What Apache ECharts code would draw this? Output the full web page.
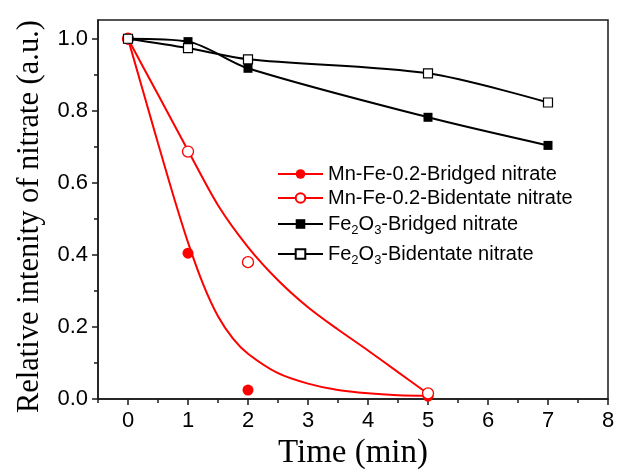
<!DOCTYPE html>
<html>
<head>
<meta charset="utf-8">
<script src="https://cdn.jsdelivr.net/npm/echarts@6/dist/echarts.min.js"></script>
<style>
  html, body { margin: 0; padding: 0; background: #ffffff; }
  #chart { width: 618px; height: 475px; }
</style>
</head>
<body>
<div id="chart"></div>
<script>
// Measured relative intensities
const mnBridgedX = [0, 1, 2, 5];
const mnBridgedY = [1.0, 0.405, 0.025, 0.008];
const mnBidentateX = [0, 1, 2, 5];
const mnBidentateY = [1.0, 0.687, 0.38, 0.016];
const feBridgedX = [0, 1, 2, 5, 7];
const feBridgedY = [1.0, 0.992, 0.918, 0.782, 0.704];
const feBidentateX = [0, 1, 2, 5, 7];
const feBidentateY = [1.0, 0.974, 0.943, 0.904, 0.823];

// Fitted decay curves for the Mn-Fe-0.2 sample
const mnBridgedFitX = [0, 0.25, 0.5, 0.75, 1, 1.25, 1.5, 1.75, 2, 2.5, 3, 3.5, 4, 4.5, 5];
const mnBridgedFitY = [1.0, 0.855, 0.71, 0.568, 0.435, 0.32, 0.23, 0.168, 0.126, 0.072, 0.043, 0.025, 0.016, 0.011, 0.009];
const mnBidentateFitX = [0, 0.5, 1, 1.5, 2, 2.5, 3, 3.5, 4, 4.5, 5];
const mnBidentateFitY = [1.0, 0.845, 0.69, 0.538, 0.422, 0.33, 0.255, 0.193, 0.135, 0.075, 0.015];

// Axis ticks
const xTicks = [0, 1, 2, 3, 4, 5, 6, 7, 8];
const xMinorTicks = [-0.5, 0.5, 1.5, 2.5, 3.5, 4.5, 5.5, 6.5, 7.5];
const yTicks = [0, 0.2, 0.4, 0.6, 0.8, 1.0];
const yMinorTicks = [0.1, 0.3, 0.5, 0.7, 0.9];

const seriesNames = [
  'Mn-Fe-0.2-Bridged nitrate',
  'Mn-Fe-0.2-Bidentate nitrate',
  'Fe2O3-Bridged nitrate',
  'Fe2O3-Bidentate nitrate'
];
const legendTops = [164, 188, 214, 244];

const pairs = (xs, ys) => xs.map((x, i) => [x, ys[i]]);

const RED = '#ff0000';
const BLACK = '#000000';
const AXIS = '#1a1a1a';
const X_MIN = -0.5, X_MAX = 8, Y_MIN = 0, Y_MAX = 1.052;

const labelFont = 'Liberation Sans';
const titleFont = 'Liberation Serif';

const chart = echarts.init(document.getElementById('chart'), null, { renderer: 'canvas' });

const baseX = {
  type: 'value', min: X_MIN, max: X_MAX, splitLine: { show: false }
};
const baseY = {
  type: 'value', min: Y_MIN, max: Y_MAX, splitLine: { show: false }
};

chart.setOption({
  animation: false,
  backgroundColor: '#ffffff',
  grid: {
    left: 98, right: 10, top: 20, bottom: 75,
    show: true, borderColor: AXIS, borderWidth: 1.5, backgroundColor: 'transparent'
  },
  xAxis: [
    Object.assign({}, baseX, {
      position: 'bottom',
      name: 'Time (min)',
      nameLocation: 'middle',
      nameGap: 37,
      nameTextStyle: { fontFamily: titleFont, fontSize: 33, color: BLACK },
      axisLine: { show: true, onZero: false, lineStyle: { color: AXIS, width: 1.5 } },
      axisTick: { show: true, inside: false, length: 6, customValues: xTicks, lineStyle: { color: AXIS, width: 1.5 } },
      axisLabel: { show: true, margin: 11, customValues: xTicks, fontFamily: labelFont, fontSize: 22, color: BLACK,
                   formatter: v => String(v) }
    }),
    Object.assign({}, baseX, {
      position: 'bottom',
      axisLine: { show: false, onZero: false },
      axisTick: { show: true, inside: false, length: 4, customValues: xMinorTicks, lineStyle: { color: AXIS, width: 1.5 } },
      axisLabel: { show: false }
    })
  ],
  yAxis: [
    Object.assign({}, baseY, {
      position: 'left',
      name: 'Relative intenity of nitrate (a.u.)',
      nameLocation: 'middle',
      nameGap: 53,
      nameTextStyle: { fontFamily: titleFont, fontSize: 30.5, color: BLACK, padding: [0, 14, 0, 0] },
      axisLine: { show: true, onZero: false, lineStyle: { color: AXIS, width: 1.5 } },
      axisTick: { show: true, inside: false, length: 6, customValues: yTicks, lineStyle: { color: AXIS, width: 1.5 } },
      axisLabel: { show: true, margin: 10, customValues: yTicks, fontFamily: labelFont, fontSize: 22, color: BLACK,
                   formatter: v => Number(v).toFixed(1) }
    }),
    Object.assign({}, baseY, {
      position: 'left',
      axisLine: { show: false, onZero: false },
      axisTick: { show: true, inside: false, length: 4, customValues: yMinorTicks, lineStyle: { color: AXIS, width: 1.5 } },
      axisLabel: { show: false }
    })
  ],
  legend: seriesNames.map((n, i) => ({
    data: [n],
    left: 277,
    top: legendTops[i],
    orient: 'vertical',
    padding: 0,
    itemGap: 0,
    itemWidth: 45,
    itemHeight: 12,
    selectedMode: false,
    formatter: name => name.replace('Fe2O3', 'Fe{sub|2}O{sub|3}'),
    textStyle: {
      fontFamily: labelFont, fontSize: 20, color: BLACK,
      rich: { sub: { fontFamily: labelFont, fontSize: 13, color: BLACK, padding: [12, 0, 0, 0] } }
    }
  })),
  series: [
    {
      name: seriesNames[0], type: 'line', xAxisIndex: 0, yAxisIndex: 0,
      data: pairs(mnBridgedFitX, mnBridgedFitY),
      smooth: 0.3, showSymbol: false, symbol: 'circle', symbolSize: 10,
      lineStyle: { color: RED, width: 2 }, itemStyle: { color: RED }, z: 2
    },
    {
      name: seriesNames[0], type: 'scatter', xAxisIndex: 0, yAxisIndex: 0,
      data: pairs(mnBridgedX, mnBridgedY),
      symbol: 'circle', symbolSize: 11, itemStyle: { color: RED, opacity: 1 }, z: 3
    },
    {
      name: seriesNames[1], type: 'line', xAxisIndex: 0, yAxisIndex: 0,
      data: pairs(mnBidentateFitX, mnBidentateFitY),
      smooth: 0.3, showSymbol: false, symbol: 'circle', symbolSize: 10,
      lineStyle: { color: RED, width: 2 },
      itemStyle: { color: '#ffffff', borderColor: RED, borderWidth: 1.3 }, z: 2
    },
    {
      name: seriesNames[1], type: 'scatter', xAxisIndex: 0, yAxisIndex: 0,
      data: pairs(mnBidentateX, mnBidentateY),
      symbol: 'circle', symbolSize: 11,
      itemStyle: { color: '#ffffff', borderColor: RED, borderWidth: 1.3, opacity: 1 }, z: 4
    },
    {
      name: seriesNames[2], type: 'line', xAxisIndex: 0, yAxisIndex: 0,
      data: pairs(feBridgedX, feBridgedY),
      smooth: 0.3, showSymbol: true, symbol: 'rect', symbolSize: 9,
      lineStyle: { color: BLACK, width: 2 }, itemStyle: { color: BLACK }, z: 5
    },
    {
      name: seriesNames[3], type: 'line', xAxisIndex: 0, yAxisIndex: 0,
      data: pairs(feBidentateX, feBidentateY),
      smooth: 0.3, showSymbol: true, symbol: 'rect', symbolSize: 9,
      lineStyle: { color: BLACK, width: 2 },
      itemStyle: { color: '#ffffff', borderColor: BLACK, borderWidth: 1.2 }, z: 6
    }
  ]
});
</script>
</body>
</html>
